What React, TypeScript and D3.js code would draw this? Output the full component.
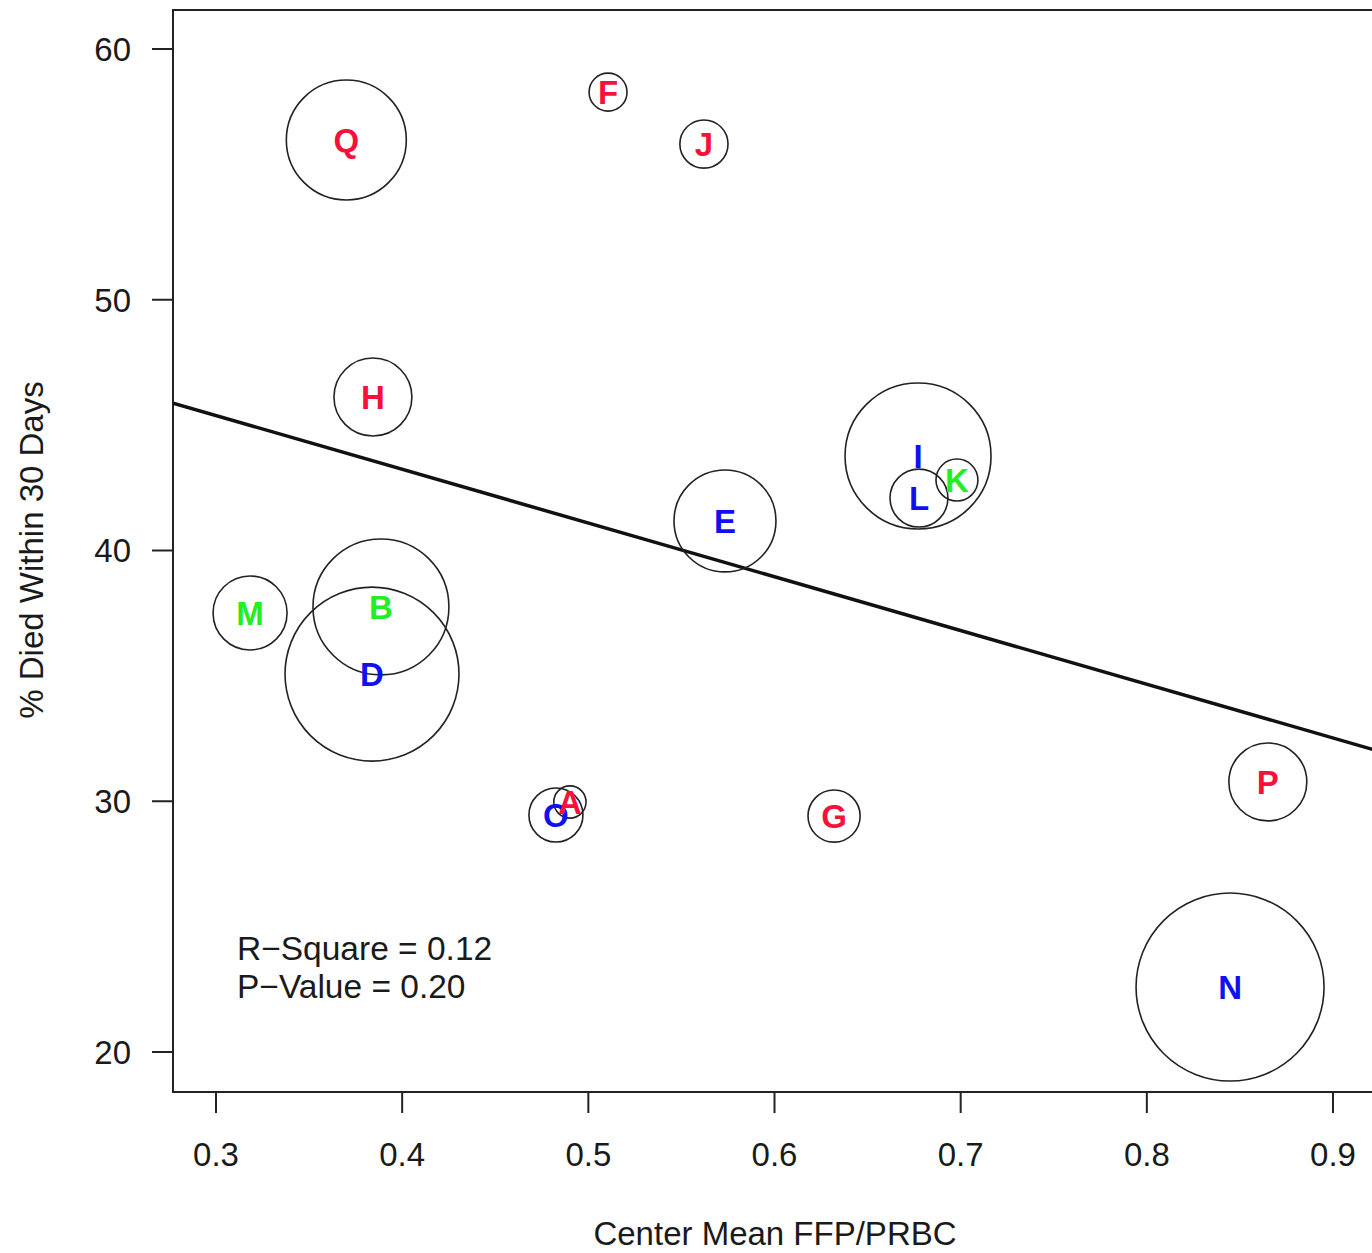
import React from "react";
import * as d3 from "d3";

const labels = ["Q", "F", "J", "H", "I", "K", "L", "E", "M", "B", "D", "O", "A", "G", "P", "N"];
const ffpRatio = [0.370, 0.5106, 0.5621, 0.3843, 0.6771, 0.698, 0.6776, 0.5734, 0.3183, 0.3886, 0.3838, 0.4826, 0.4901, 0.632, 0.865, 0.8447];
const died30 = [56.37, 58.28, 56.21, 46.12, 43.77, 42.81, 42.09, 41.18, 37.51, 37.75, 35.07, 29.45, 29.97, 29.41, 30.77, 22.59];
const patients = [360, 36, 58, 152, 533, 44, 84, 260, 137, 462, 757, 73, 26, 68, 152, 884];
const groups = ["r", "r", "r", "r", "b", "g", "b", "b", "g", "g", "b", "b", "r", "r", "r", "b"];
const xTicks = [0.3, 0.4, 0.5, 0.6, 0.7, 0.8, 0.9];
const yTicks = [20, 30, 40, 50, 60];
const fitIntercept = 51.81;
const fitSlope = -21.43;
const statLines = ["R\u2212Square = 0.12", "P\u2212Value = 0.20"];

const colorOf: Record<string, string> = { r: "#F5113C", b: "#1010F0", g: "#22EE22" };

export default function App() {
  const W = 1372, H = 1253;
  const left = 173, top = 10, bottom = 1092, right = 1385;
  const x = d3.scaleLinear().domain([0.3, 0.9]).range([216, 1333]);
  const y = d3.scaleLinear().domain([20, 60]).range([1052, 49]);
  const r = d3.scaleSqrt().domain([0, 884]).range([0, 94]);
  const font = "'Liberation Sans', Arial, sans-serif";
  const x0 = x.invert(left), x1 = x.invert(W + 5);
  const textColor = "#1a1a1a";
  return (
    <svg width={W} height={H} style={{ position: "absolute", left: 0, top: 0, background: "#fff" }} fontFamily={font}>
      <defs>
        <clipPath id="plotclip">
          <rect x={left} y={top} width={right - left} height={bottom - top} />
        </clipPath>
      </defs>
      <rect x={left} y={top} width={right - left} height={bottom - top} fill="none" stroke="#222" strokeWidth={2} />
      {yTicks.map((t) => (
        <g key={"y" + t}>
          <line x1={152} x2={left} y1={y(t)} y2={y(t)} stroke="#222" strokeWidth={2} />
          <text x={131} y={y(t)} dy="0.36em" textAnchor="end" fontSize={33} fill={textColor}>{t}</text>
        </g>
      ))}
      {xTicks.map((t) => (
        <g key={"x" + t}>
          <line x1={x(t)} x2={x(t)} y1={bottom} y2={bottom + 21} stroke="#222" strokeWidth={2} />
          <text x={x(t)} y={1166} textAnchor="middle" fontSize={33} fill={textColor}>{t}</text>
        </g>
      ))}
      <text x={775} y={1245} textAnchor="middle" fontSize={33} fill={textColor}>Center Mean FFP/PRBC</text>
      <text transform={`translate(43,550) rotate(-90)`} textAnchor="middle" fontSize={33} fill={textColor}>% Died Within 30 Days</text>
      <g clipPath="url(#plotclip)">
        <line x1={x(x0)} y1={y(fitIntercept + fitSlope * x0)} x2={x(x1)} y2={y(fitIntercept + fitSlope * x1)} stroke="#111" strokeWidth={3.5} />
        {labels.map((l, i) => (
          <circle key={"c" + l} cx={x(ffpRatio[i])} cy={y(died30[i])} r={r(patients[i])} fill="none" stroke="#222" strokeWidth={1.6} />
        ))}
        {labels.map((l, i) => (
          <text key={"t" + l} x={x(ffpRatio[i])} y={y(died30[i])} dy="0.36em" textAnchor="middle" fontSize={33} fontWeight="bold" fill={colorOf[groups[i]]}>{l}</text>
        ))}
      </g>
      {statLines.map((s, i) => (
        <text key={s} x={237} y={960 + i * 38} fontSize={33.5} fill={textColor}>{s}</text>
      ))}
    </svg>
  );
}
